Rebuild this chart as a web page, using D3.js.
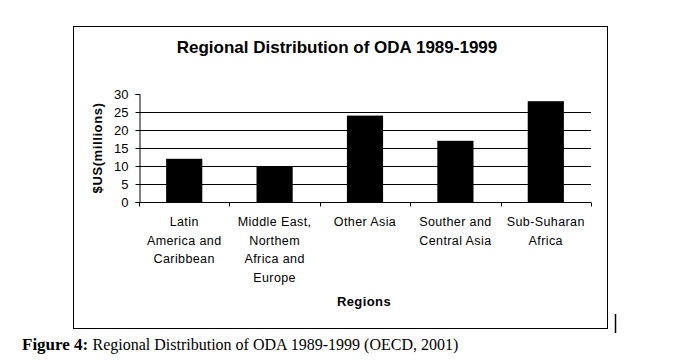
<!DOCTYPE html>
<html><head><meta charset="utf-8">
<script src="https://cdn.jsdelivr.net/npm/d3@7"></script>
<style>body{margin:0;background:#fff}svg{display:block}</style>
</head><body>
<svg id="c" width="690" height="360"></svg>
<script>
const categories = ["Latin\nAmerica and\nCaribbean", "Middle East,\nNorthem\nAfrica and\nEurope", "Other Asia", "Souther and\nCentral Asia", "Sub-Suharan\nAfrica"];
const values = [12, 10, 24, 17, 28];
const yTicks = [0, 5, 10, 15, 20, 25, 30];
const title = "Regional Distribution of ODA 1989-1999";
const yTitle = "$US(millions)";
const xTitle = "Regions";

const svg = d3.select("#c");
const font = "Arial, 'Liberation Sans', sans-serif";
const L = 139, R = 591, T = 94, B = 202;

svg.append("rect").attr("x", 73.5).attr("y", 26.5).attr("width", 534).attr("height", 302)
  .attr("fill", "#fff").attr("stroke", "#000").attr("stroke-width", 1);

const x = d3.scaleBand().domain(categories).range([L, R]).paddingInner(0.6).paddingOuter(0.3);
const xb = d3.scaleBand().domain(categories).range([L, R]);
const y = d3.scaleLinear().domain([0, 30]).range([B, T]);

// gridlines
svg.append("g").selectAll("line").data(yTicks.filter(t => t > 0 && t < 30)).join("line")
  .attr("x1", L).attr("x2", R).attr("y1", d => Math.round(y(d)) + 0.5).attr("y2", d => Math.round(y(d)) + 0.5)
  .attr("stroke", "#000").attr("stroke-width", 1.2);

// bars
svg.append("g").selectAll("rect").data(values).join("rect")
  .attr("x", (d, i) => x(categories[i])).attr("width", x.bandwidth())
  .attr("y", d => y(d)).attr("height", d => B - y(d)).attr("fill", "#000");

// y axis
const yAxis = svg.append("g").attr("transform", `translate(${L + 0.5},0)`)
  .call(d3.axisLeft(y).tickValues(yTicks).tickSize(4).tickPadding(7));
yAxis.select(".domain").attr("stroke", "#000");
yAxis.selectAll("text").attr("font-family", font).attr("font-size", 13).attr("fill", "#000");

// x axis
const xAxis = svg.append("g").attr("transform", `translate(0,${B + 0.5})`);
xAxis.append("line").attr("x1", L).attr("x2", R).attr("stroke", "#000");
const bounds = categories.map(c => xb(c)).concat([R]);
xAxis.selectAll("line.tk").data(bounds).join("line").attr("class", "tk")
  .attr("x1", d => Math.round(d) + 0.5).attr("x2", d => Math.round(d) + 0.5).attr("y1", 0).attr("y2", 4)
  .attr("stroke", "#000");
const lab = svg.append("g").selectAll("text").data(categories).join("text")
  .attr("x", d => xb(d) + xb.bandwidth() / 2).attr("y", 226)
  .attr("text-anchor", "middle").attr("font-family", font).attr("font-size", 12.5)
  .attr("letter-spacing", 0.4).attr("fill", "#000");
lab.each(function(d) {
  const t = d3.select(this);
  d.split("\n").forEach((s, i) => t.append("tspan").attr("x", xb(d) + xb.bandwidth() / 2).attr("dy", i ? 18.5 : 0).text(s));
});

svg.append("text").attr("x", 337).attr("y", 53).attr("text-anchor", "middle")
  .attr("font-family", font).attr("font-weight", "bold").attr("font-size", 17).text(title);
svg.append("text").attr("transform", `translate(102,148) rotate(-90)`).attr("text-anchor", "middle")
  .attr("font-family", font).attr("font-weight", "bold").attr("font-size", 13).attr("letter-spacing", 0.6).text(yTitle);
svg.append("text").attr("x", 364).attr("y", 306).attr("text-anchor", "middle")
  .attr("font-family", font).attr("font-weight", "bold").attr("font-size", 13).attr("letter-spacing", 0.4).text(xTitle);

// caption
const cap = svg.append("text").attr("x", 22).attr("y", 350).attr("font-family", "'Liberation Serif', serif").attr("font-size", 16);
cap.append("tspan").attr("font-weight", "bold").attr("font-size", 17).text("Figure 4: ");
cap.append("tspan").text("Regional Distribution of ODA 1989-1999 (OECD, 2001)");

svg.append("line").attr("x1", 615.5).attr("x2", 615.5).attr("y1", 314).attr("y2", 333).attr("stroke", "#000").attr("stroke-width", 1.5);
</script>
</body></html>
